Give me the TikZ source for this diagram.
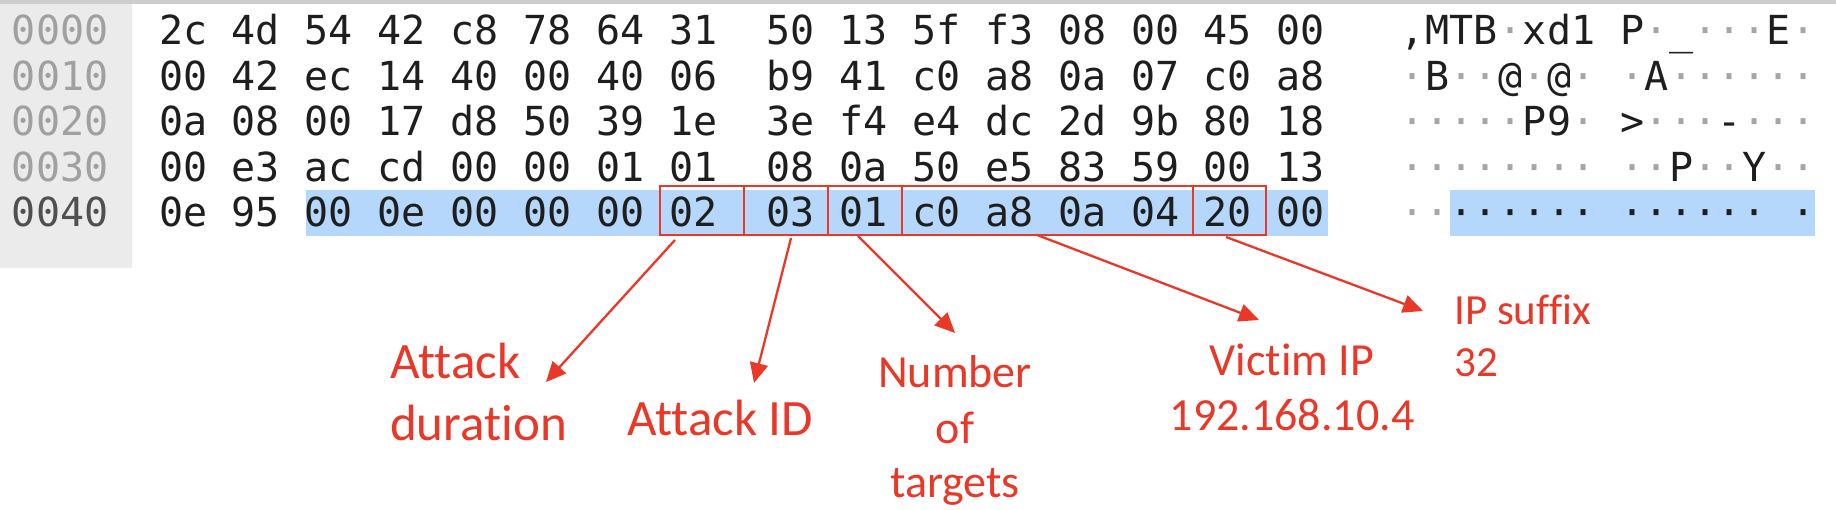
\documentclass[tikz,border=0pt]{standalone}
\usepackage{fontspec}
\usetikzlibrary{arrows.meta,calc}
\newfontfamily\hexfont{DejaVu Sans Mono}
\newfontfamily\labfont[Ligatures=NoCommon]{Carlito}
\definecolor{annred}{RGB}{234,56,40}
\definecolor{selblue}{RGB}{180,215,251}
\definecolor{offgray}{RGB}{160,160,160}
\definecolor{offdark}{RGB}{80,80,80}
\definecolor{hexink}{RGB}{30,30,30}
\definecolor{colgray}{RGB}{235,235,235}
\definecolor{topline}{RGB}{205,205,205}
\definecolor{dotgray}{RGB}{165,165,165}
\newcommand\aschr[1]{\makebox[24.4pt][c]{#1}}
\newcommand\gdot{\aschr{\textcolor{dotgray}{·}}}
\newcommand\kdot{\aschr{\textcolor{hexink}{·}}}
\newcommand\asp{\aschr{}}
\tikzset{
  mono/.style={font=\hexfont\fontsize{40}{48}\selectfont, inner sep=0pt, outer sep=0pt, anchor=base west},
  hexbyte/.style={mono, text=hexink},
  offs/.style={mono, text=offgray},
  asciirow/.style={mono, text=hexink},
  redbox/.style={draw=annred, line width=2pt, inner sep=0pt, outer sep=0pt, minimum height=49pt},
  arr/.style={draw=annred, line width=2.3pt, -{Triangle[length=20pt,width=18pt]}},
  lab/.style={font=\labfont\fontsize{51}{62}\selectfont, text=annred, inner sep=0pt},
  labs/.style={font=\labfont\fontsize{46}{55}\selectfont, text=annred, inner sep=0pt},
  labt/.style={font=\labfont\fontsize{43}{52}\selectfont, text=annred, inner sep=0pt},
}
\begin{document}
\begin{tikzpicture}[x=1pt,y=-1pt]
\useasboundingbox (0,0) rectangle (1836,510);
% backgrounds
\fill[white] (0,0) rectangle (1836,510);
\fill[topline] (0,0) rectangle (1836,4);
\fill[colgray] (0,4) rectangle (132,268);
\fill[selblue] (306,190) rectangle (1328,236);
\fill[selblue] (1450,190) rectangle (1815,236);
% offsets
\node[offs] (o0) at (12,45) {0000};
\node[offs] (o1) at (12,90.5) {0010};
\node[offs] (o2) at (12,136) {0020};
\node[offs] (o3) at (12,181.5) {0030};
\node[offs, text=offdark] (o4) at (12,227) {0040};
% hex bytes
\foreach \rowdata [count=\r from 0] in {
 {2c,4d,54,42,c8,78,64,31,50,13,5f,f3,08,00,45,00},
 {00,42,ec,14,40,00,40,06,b9,41,c0,a8,0a,07,c0,a8},
 {0a,08,00,17,d8,50,39,1e,3e,f4,e4,dc,2d,9b,80,18},
 {00,e3,ac,cd,00,00,01,01,08,0a,50,e5,83,59,00,13},
 {0e,95,00,0e,00,00,00,02,03,01,c0,a8,0a,04,20,00}}{
  \foreach \b [count=\i from 0] in \rowdata {
    \node[hexbyte] (h\r-\i) at ({159+24.3*(3*\i+(\i>7))}, {45+45.5*\r}) {\b};
  }
}
% ascii
\node[asciirow] (a0) at (1400.5,45) {\aschr{,}\aschr{M}\aschr{T}\aschr{B}\gdot\aschr{x}\aschr{d}\aschr{1}\asp\aschr{P}\gdot\aschr{\_}\gdot\gdot\gdot\aschr{E}\gdot};
\node[asciirow] (a1) at (1400.5,90.5) {\gdot\aschr{B}\gdot\gdot\aschr{@}\gdot\aschr{@}\gdot\asp\gdot\aschr{A}\gdot\gdot\gdot\gdot\gdot\gdot};
\node[asciirow] (a2) at (1400.5,136) {\gdot\gdot\gdot\gdot\gdot\aschr{P}\aschr{9}\gdot\asp\aschr{>}\gdot\gdot\gdot\aschr{-}\gdot\gdot\gdot};
\node[asciirow] (a3) at (1400.5,181.5) {\gdot\gdot\gdot\gdot\gdot\gdot\gdot\gdot\asp\gdot\gdot\aschr{P}\gdot\gdot\aschr{Y}\gdot\gdot};
\node[asciirow] (a4) at (1400.5,227) {\gdot\gdot\kdot\kdot\kdot\kdot\kdot\kdot\asp\kdot\kdot\kdot\kdot\kdot\kdot\asp\kdot};
% red boxes
\node[redbox, minimum width=84.5pt] (b1) at (701.75,210.5) {};
\node[redbox, minimum width=84pt] (b2) at (786,210.5) {};
\node[redbox, minimum width=73.5pt] (b3) at (864.75,210.5) {};
\node[redbox, minimum width=291.5pt] (b4) at (1047.25,210.5) {};
\node[redbox, minimum width=72.5pt] (b5) at (1229.25,210.5) {};
% labels
\node[lab, anchor=base west] (ldur) at (390,378) {\begin{tabular}[t]{@{}l@{}}Attack\\duration\end{tabular}};
\node[lab, anchor=base west] (lid) at (627,435) {Attack ID};
\node[labs, anchor=base] (lnum) at (955,388) {\begin{tabular}[t]{@{}c@{}}Number\\of\\targets\end{tabular}};
\node[labs, anchor=base] (lvic) at (1292,375) {\begin{tabular}[t]{@{}c@{}}Victim IP\\192.168.10.4\end{tabular}};
\node[labt, anchor=base west] (lsuf) at (1454,325) {\begin{tabular}[t]{@{}l@{}}IP suffix\\32\end{tabular}};
% arrow tips
\coordinate (t1) at (546,382);
\coordinate (t2) at (754,383);
\coordinate (t3) at (955,333);
\coordinate (t4) at (1259,320);
\coordinate (t5) at (1423,311);
% arrows
\draw[arr] ([xshift=-26.75pt,yshift=-5pt]b1.south) -- (t1);
\draw[arr] ([xshift=5pt,yshift=-3pt]b2.south) -- (t2);
\draw[arr] ([xshift=-6.75pt,yshift=-1pt]b3.south) -- (t3);
\draw[arr] ([xshift=-10.25pt]b4.south) -- (t4);
\draw[arr] ([xshift=-3.25pt,yshift=-2pt]b5.south) -- (t5);
\end{tikzpicture}
\end{document}
